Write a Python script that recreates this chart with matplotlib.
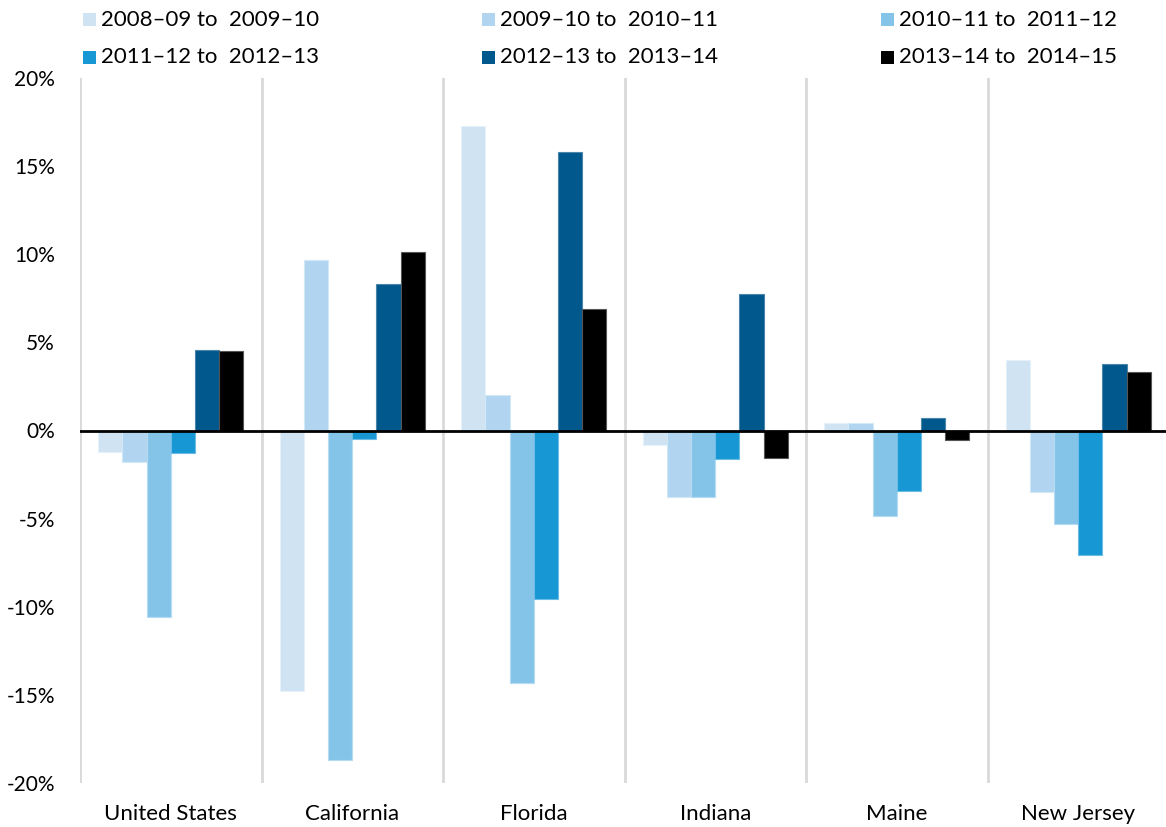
import matplotlib.pyplot as plt
from matplotlib.patches import Rectangle
import numpy as np

plt.rcParams['font.family'] = ['Lato', 'DejaVu Sans']

states = ['United States', 'California', 'Florida', 'Indiana', 'Maine', 'New Jersey']
periods = ['2008–09 to  2009–10', '2009–10 to  2010–11', '2010–11 to  2011–12',
           '2011–12 to  2012–13', '2012–13 to  2013–14', '2013–14 to  2014–15']

# percent change per period, one list per state order above
chg_0809 = [-1.2, -14.8, 17.3, -0.85, 0.4, 4.0]
chg_0910 = [-1.8, 9.7, 2.0, -3.8, 0.45, -3.5]
chg_1011 = [-10.6, -18.7, -14.3, -3.8, -4.85, -5.3]
chg_1112 = [-1.3, -0.5, -9.55, -1.6, -3.45, -7.05]
chg_1213 = [4.55, 8.3, 15.8, 7.75, 0.7, 3.8]
chg_1314 = [4.5, 10.15, 6.9, -1.55, -0.55, 3.3]

colors = ['#cfe3f3', '#b1d5f0', '#85c4e9', '#1797d4', '#00588c', '#000000']
edges = ['#e6f1f9', '#d3e8f7', '#b5dbf2', '#6cbde6', '#4a86ab', '#555555']

series = [chg_0809, chg_0910, chg_1011, chg_1112, chg_1213, chg_1314]

W, H = 1166, 827
fig = plt.figure(figsize=(W / 100, H / 100), dpi=100)
ax = fig.add_axes([80 / W, 1 - 783 / H, 1089 / W, (783 - 78) / H])

x = np.arange(len(states))
w = 0.8 / len(series)
for i, vals in enumerate(series):
    ax.bar(x - 0.4 + w * (i + 0.5), vals, width=w, color=colors[i],
           edgecolor=edges[i], linewidth=0.8, label=periods[i], zorder=3)

ax.set_xlim(-0.5, len(states) - 0.5)
ax.set_ylim(-20, 20)
ax.set_yticks(np.arange(-20, 21, 5))
ax.set_yticklabels([f'{v}%' for v in range(-20, 21, 5)], fontsize=15)
ax.set_xticks(x)
ax.set_xticklabels(states, fontsize=16)
ax.tick_params(length=0)
ax.tick_params(axis='y', pad=18)
ax.tick_params(axis='x', pad=15)

# group separators
for s in np.arange(-0.5, len(states), 1.0):
    ax.axvline(s, color='#d9d9d9', linewidth=2, zorder=1)
ax.axhline(0, color='black', linewidth=2, zorder=4)

for sp in ax.spines.values():
    sp.set_visible(False)

# legend: 3 columns x 2 rows across the top
for i, lab in enumerate(periods):
    row, col = divmod(i, 3)
    px = 83 + 399 * col
    py = 19.5 + 37.5 * row
    fig.patches.append(Rectangle((px / W, 1 - (py + 6.5) / H), 13 / W, 13 / H,
                                 transform=fig.transFigure, facecolor=colors[i],
                                 edgecolor='none'))
    fig.text((px + 18) / W, 1 - py / H, lab, fontsize=16, va='center', ha='left')

fig.savefig('out.png', dpi=100)
